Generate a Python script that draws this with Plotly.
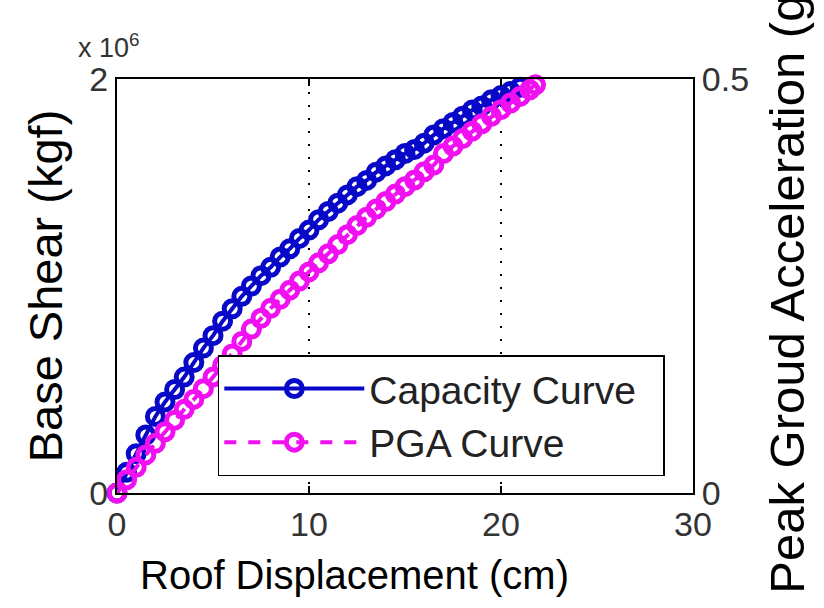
import plotly.graph_objects as go

# ---- data ----
cap_disp = [0.0, 0.5, 1.0, 1.5, 2.0, 2.5, 3.0, 3.5, 4.0, 4.5, 5.0, 5.5, 6.0, 6.5,
            7.0, 7.5, 8.0, 8.5, 9.0, 9.5, 10.0, 10.5, 11.0, 11.5, 12.0, 12.5,
            13.0, 13.5, 14.0, 14.5, 15.0, 15.5, 16.0, 16.5, 17.0, 17.5, 18.0,
            18.5, 19.0, 19.5, 20.0, 20.5, 21.0]
cap_shear = [0, 100000, 190000, 280000, 370000, 440000, 500000, 560000, 630000,
             700000, 760000, 830000, 890000, 950000, 1000000, 1050000, 1090000,
             1140000, 1180000, 1230000, 1270000, 1320000, 1360000, 1400000,
             1440000, 1480000, 1510000, 1550000, 1580000, 1610000, 1640000,
             1660000, 1690000, 1730000, 1760000, 1790000, 1820000, 1850000,
             1870000, 1900000, 1920000, 1940000, 1960000]

pga_disp = [0.0, 0.5, 1.0, 1.5, 2.0, 2.5, 3.0, 3.5, 4.0, 4.5, 5.0, 5.5, 6.0, 6.5,
            7.0, 7.5, 8.0, 8.5, 9.0, 9.5, 10.0, 10.5, 11.0, 11.5, 12.0, 12.5,
            13.0, 13.5, 14.0, 14.5, 15.0, 15.5, 16.0, 16.5, 17.0, 17.5, 18.0,
            18.5, 19.0, 19.5, 20.0, 20.5, 21.0, 21.5, 21.8]
pga_g = [0.000, 0.016, 0.031, 0.046, 0.060, 0.074, 0.088, 0.101, 0.113, 0.126,
         0.140, 0.154, 0.168, 0.183, 0.198, 0.211, 0.223, 0.234, 0.245, 0.256,
         0.267, 0.278, 0.289, 0.300, 0.312, 0.323, 0.333, 0.343, 0.352, 0.361,
         0.370, 0.378, 0.388, 0.396, 0.410, 0.419, 0.428, 0.437, 0.446, 0.455,
         0.463, 0.471, 0.479, 0.487, 0.493]

x_ticks = [0, 10, 20, 30]
y1_ticks = [0, 2000000]
y1_labels = ["0", "2"]
y2_ticks = [0, 0.5]
y2_labels = ["0", "0.5"]

FONT = "Liberation Sans, Arial, sans-serif"
BLUE = "#0808c8"
MAG = "#f010f0"

fig = go.Figure()
fig.add_trace(go.Scatter(
    x=cap_disp, y=cap_shear, name="Capacity Curve\u00a0\u00a0", mode="lines+markers",
    line=dict(color=BLUE, width=4),
    marker=dict(symbol="circle-open", size=16, color=BLUE, line=dict(width=5, color=BLUE)),
    cliponaxis=False,
))
fig.add_trace(go.Scatter(
    x=pga_disp, y=pga_g, name="PGA Curve", mode="lines+markers", yaxis="y2",
    line=dict(color=MAG, width=4, dash="dash"),
    marker=dict(symbol="circle-open", size=16, color=MAG, line=dict(width=5, color=MAG)),
    cliponaxis=False,
))

axis_common = dict(showline=True, linecolor="black", linewidth=2, ticks="inside",
                   ticklen=7, tickwidth=1.5, tickcolor="black",
                   tickfont=dict(family=FONT, size=34, color="#333"), zeroline=False)

fig.update_layout(
    width=824, height=608,
    margin=dict(l=117, r=131, t=79, b=115),
    paper_bgcolor="white", plot_bgcolor="white",
    font=dict(family=FONT, color="black"),
    showlegend=True,
    xaxis=dict(range=[0, 30], tickvals=x_ticks, mirror="ticks",
               showgrid=True, gridcolor="black", gridwidth=1.5, griddash="2px,11px",
               **axis_common),
    yaxis=dict(range=[0, 2000000], tickvals=y1_ticks, ticktext=y1_labels, showgrid=False,
               title=dict(text="Base Shear (kgf)", font=dict(family=FONT, size=47), standoff=12),
               **axis_common),
    yaxis2=dict(range=[0, 0.5], tickvals=y2_ticks, ticktext=y2_labels, overlaying="y",
                side="right", showgrid=False,
                title=dict(text="Peak Groud Acceleration (g)", font=dict(family=FONT, size=49), standoff=22),
                **axis_common),
    legend=dict(x=0.175, y=0.333, xanchor="left", yanchor="top",
                bgcolor="white", bordercolor="black", borderwidth=1.5,
                font=dict(family=FONT, size=39, color="#222"), itemwidth=140,
                tracegroupgap=0),
    annotations=[
        dict(text="x 10<sup>6</sup>", xref="paper", yref="paper",
             x=-0.072, y=1.0, xanchor="left", yanchor="bottom", yshift=14,
             showarrow=False, font=dict(family=FONT, size=27, color="#333")),
        dict(text="Roof Displacement (cm)", xref="paper", yref="paper",
             x=0.413, y=0.0, xanchor="center", yanchor="middle", yshift=-82,
             showarrow=False, font=dict(family=FONT, size=40, color="black")),
    ],
)

fig.write_html("out.html")
